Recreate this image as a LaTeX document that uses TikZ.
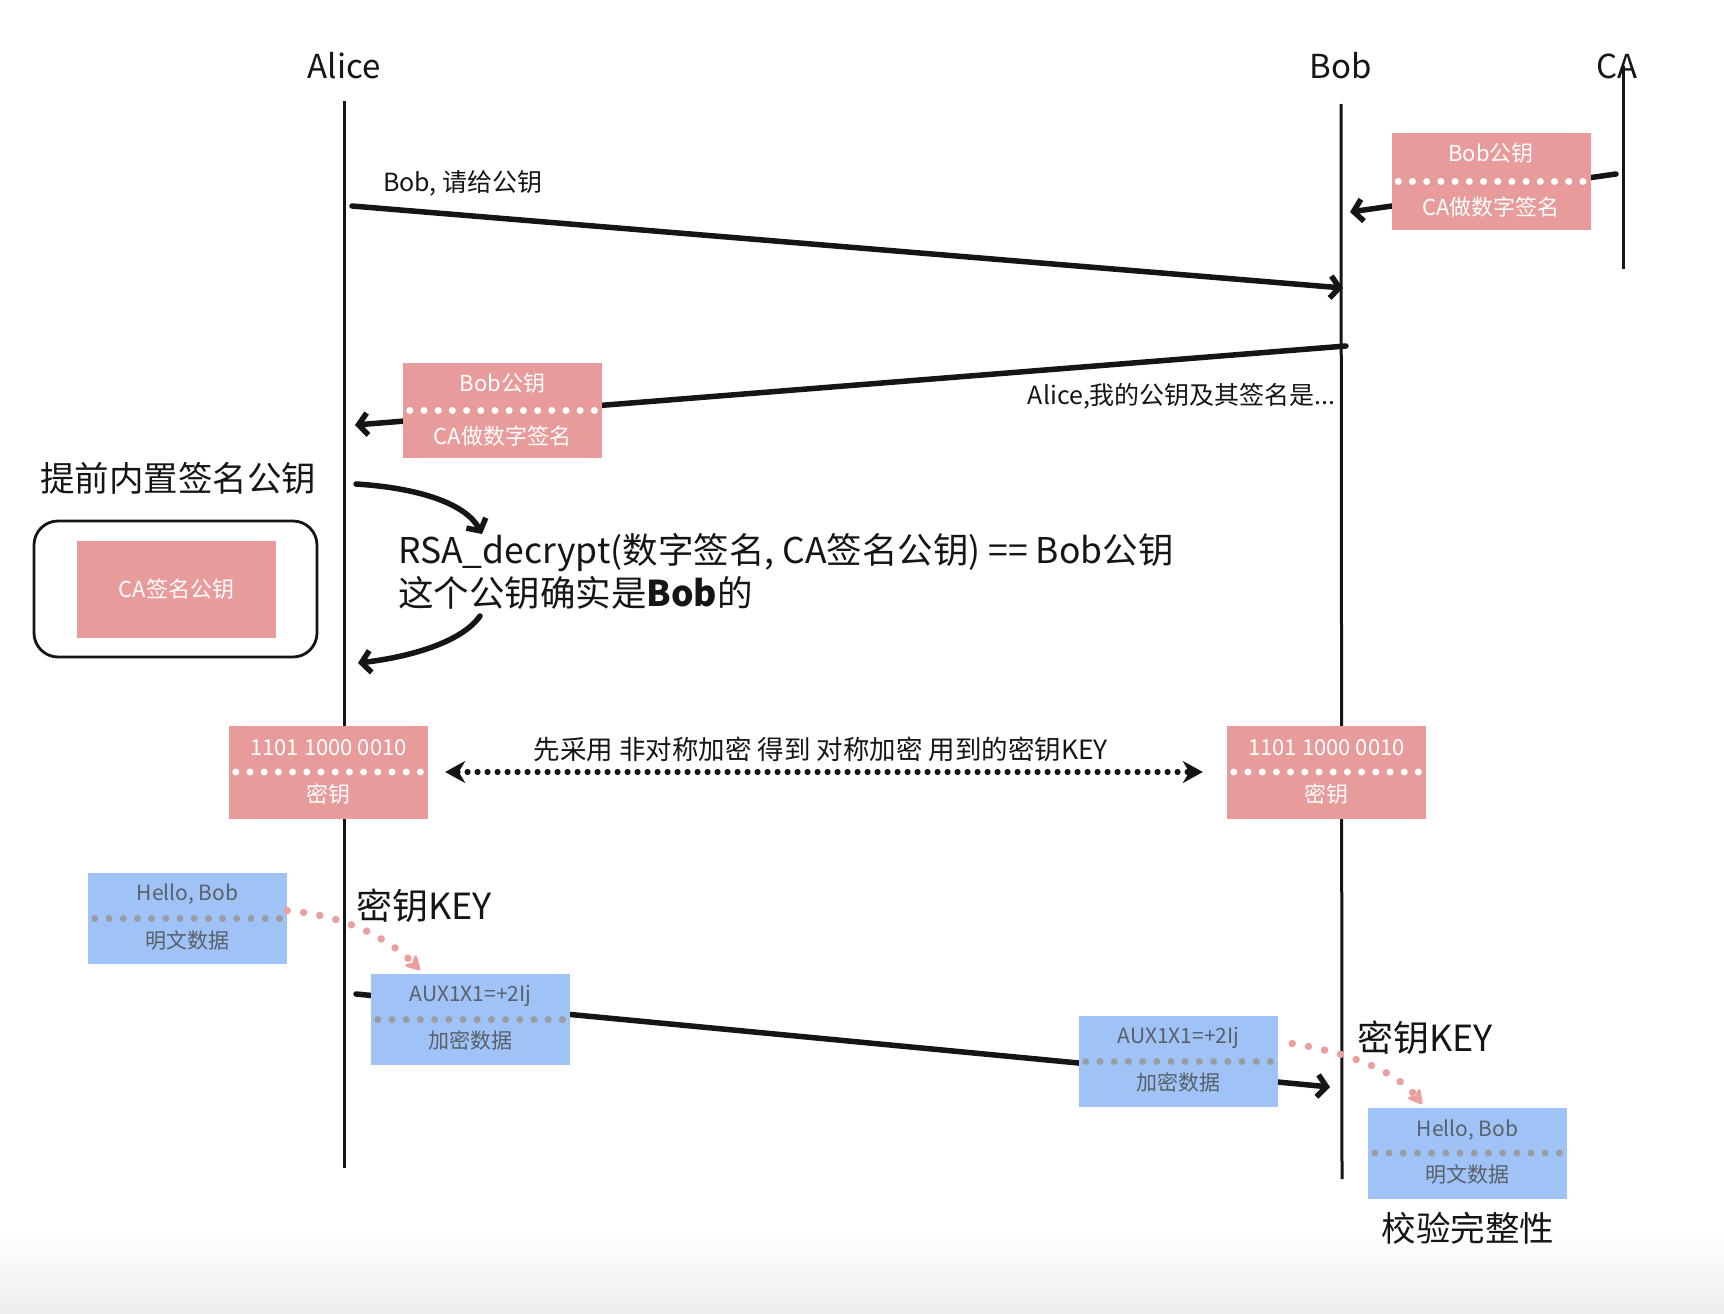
\documentclass[tikz,border=0pt]{standalone}
\usepackage{fontspec}
\setmainfont{Noto Sans CJK SC}
\usetikzlibrary{arrows.meta,calc}
\definecolor{pinkbox}{HTML}{E89B9B}
\definecolor{bluebox}{HTML}{9FC3F6}
\definecolor{bluetext}{HTML}{5A5F68}
\definecolor{bluedot}{HTML}{9A9CA2}
\definecolor{pinkdot}{HTML}{EBA0A0}
\definecolor{ink}{HTML}{151515}
\begin{document}
\begin{tikzpicture}[x=1pt,y=-1pt,
  actor/.style={text=ink, font=\fontsize{33}{36}\selectfont, inner sep=0pt},
  lifeline/.style={line width=3pt, draw=ink},
  msg/.style={line width=5.5pt, draw=ink, line cap=round, -{Straight Barb[length=9pt,width=22pt]}},
  pinkrect/.style={fill=pinkbox, minimum width=199pt, minimum height=93pt, inner sep=0pt},
  bluerect/.style={fill=bluebox, minimum width=199pt, minimum height=91pt, inner sep=0pt},
  whitetxt/.style={text=white, font=\fontsize{22}{24}\selectfont, inner sep=0pt},
  bluetxt/.style={text=bluetext, font=\fontsize{21}{23}\selectfont, inner sep=0pt},
  wdots/.style={draw=white, line width=7pt, line cap=round, dash pattern=on 0pt off 14.2pt},
  gdots/.style={draw=bluedot, line width=7pt, line cap=round, dash pattern=on 0pt off 14.2pt},
  kdots/.style={draw=ink, line width=6.2pt, line cap=round, dash pattern=on 0pt off 10pt,
     {Stealth[length=20pt,width=22pt]}-{Stealth[length=20pt,width=22pt]}},
  pdots/.style={draw=pinkdot, line width=7.5pt, line cap=round, dash pattern=on 0pt off 16.5pt,
     -{Stealth[length=18pt,width=20pt,round]}},
  midtxt/.style={text=ink, font=\fontsize{25}{27}\selectfont, inner sep=0pt},
  bigtxt/.style={text=ink, font=\fontsize{34.5}{37}\selectfont, inner sep=0pt},
  rsatxt/.style={text=ink, font=\fontsize{35.5}{43}\selectfont, inner sep=0pt, align=left}
]
\useasboundingbox (0,0) rectangle (1724,1314);
\shade[top color=white, bottom color=black!7] (0,1230) rectangle (1724,1314);

% actors
\node[actor] (alice) at (344,66) {Alice};
\node[actor] (bob) at (1341,66) {Bob};
\node[actor] (ca) at (1617,66) {CA};

% lifelines
\coordinate (aT) at (344,101); \coordinate (aB) at (344,1168);
\coordinate (bT) at (1341,104); \coordinate (bB) at (1342,1179);
\coordinate (cT) at (1623,66); \coordinate (cB) at (1623,269);
\draw[lifeline] (aT) -- (aB);
\draw[lifeline] (bT) -- (bB);
\draw[lifeline] (cT) -- (cB);

% messages
\coordinate (m0s) at (1616,174); \coordinate (m0e) at (1350,212);
\coordinate (m1s) at (352,206);  \coordinate (m1e) at (1343,288);
\coordinate (m2s) at (1346,346); \coordinate (m2e) at (355,425);
\coordinate (m3s) at (356,994);  \coordinate (m3e) at (1330,1087);
\draw[msg] (m0s) -- (m0e);
\draw[msg] (m1s) -- (m1e);
\draw[msg] (m2s) -- (m2e);
\draw[msg] (m3s) -- (m3e);

\node[midtxt, anchor=west] (l1) at (383,183) {Bob, 请给公钥};
\node[midtxt, anchor=east] (l2) at (1336,396) {Alice,我的公钥及其签名是...};

% CA box
\node[pinkrect, minimum height=97pt] (cabox) at (1491,181.5) {};
\draw[wdots] ([xshift=7pt]cabox.west) -- ([xshift=-4pt]cabox.east);
\node[whitetxt] (cab1) at ([yshift=28pt]cabox.center) {Bob公钥};
\node[whitetxt] (cab2) at ([yshift=-26pt]cabox.center) {CA做数字签名};

% Alice received box
\node[pinkrect, minimum height=95pt] (rbox) at (502.5,410.5) {};
\draw[wdots] ([xshift=7pt]rbox.west) -- ([xshift=-4pt]rbox.east);
\node[whitetxt] (rb1) at ([yshift=27pt]rbox.center) {Bob公钥};
\node[whitetxt] (rb2) at ([yshift=-26pt]rbox.center) {CA做数字签名};

% built-in key
\node[bigtxt] (builtinlbl) at (178,478) {提前内置签名公钥};
\node[draw=ink, line width=2.8pt, rounded corners=24pt, minimum width=283pt, minimum height=136pt] (builtin) at (175.5,589) {};
\node[pinkrect, minimum height=97pt] (capub) at (176.5,589.5) {};
\node[whitetxt] (capubt) at (capub.center) {CA签名公钥};

% verification
\node[rsatxt, anchor=west] (rsa) at (398,571) {RSA\_decrypt(数字签名, CA签名公钥) == Bob公钥\\这个公钥确实是\textbf{Bob}的};
\coordinate (c1s) at (356,484); \coordinate (c1e) at (482,534);
\coordinate (c2s) at (480,616); \coordinate (c2e) at (358,663);
\draw[msg] (c1s) .. controls (420,488) and (466,504) .. (c1e);
\draw[msg] (c2s) .. controls (462,642) and (410,657) .. (c2e);

% symmetric key boxes
\node[pinkrect] (keyL) at (328.5,772) {};
\draw[wdots] ([xshift=7pt]keyL.west) -- ([xshift=-4pt]keyL.east);
\node[whitetxt] (kL1) at ([yshift=24pt]keyL.center) {1101 1000 0010};
\node[whitetxt] (kL2) at ([yshift=-22pt]keyL.center) {密钥};
\node[pinkrect] (keyR) at (1326.5,772) {};
\draw[wdots] ([xshift=7pt]keyR.west) -- ([xshift=-4pt]keyR.east);
\node[whitetxt] (kR1) at ([yshift=24pt]keyR.center) {1101 1000 0010};
\node[whitetxt] (kR2) at ([yshift=-22pt]keyR.center) {密钥};
\draw[kdots] ([xshift=17pt]keyL.east) -- ([xshift=-24pt]keyR.west);
\node[text=ink, font=\fontsize{26.5}{28}\selectfont, inner sep=0pt] (kx) at (821,749) {先采用 非对称加密 得到 对称加密 用到的密钥KEY};

% data boxes
\node[bluerect] (helloL) at (187.5,918.5) {};
\draw[gdots] ([xshift=7pt]helloL.west) -- ([xshift=-4pt]helloL.east);
\node[bluetxt] (hL1) at ([yshift=24pt]helloL.center) {Hello, Bob};
\node[bluetxt] (hL2) at ([yshift=-22pt]helloL.center) {明文数据};

\node[bluerect] (auxL) at (470.5,1019.5) {};
\draw[gdots] ([xshift=7pt]auxL.west) -- ([xshift=-4pt]auxL.east);
\node[bluetxt] (aL1) at ([yshift=24pt]auxL.center) {AUX1X1=+2Ij};
\node[bluetxt] (aL2) at ([yshift=-21pt]auxL.center) {加密数据};

\node[bluerect] (auxR) at (1178.5,1061.5) {};
\draw[gdots] ([xshift=7pt]auxR.west) -- ([xshift=-4pt]auxR.east);
\node[bluetxt] (aR1) at ([yshift=24pt]auxR.center) {AUX1X1=+2Ij};
\node[bluetxt] (aR2) at ([yshift=-21pt]auxR.center) {加密数据};

\node[bluerect] (helloR) at (1467.5,1153) {};
\draw[gdots] ([xshift=7pt]helloR.west) -- ([xshift=-4pt]helloR.east);
\node[bluetxt] (hR1) at ([yshift=23pt]helloR.center) {Hello, Bob};
\node[bluetxt] (hR2) at ([yshift=-22pt]helloR.center) {明文数据};

% key usage
\node[bigtxt, font=\fontsize{36}{38}\selectfont, anchor=west] (kk1) at (356,906) {密钥KEY};
\node[bigtxt, font=\fontsize{36}{38}\selectfont, anchor=west] (kk2) at (1357,1038) {密钥KEY};
\coordinate (p1e) at (420,970);
\coordinate (p2e) at (1422,1104);
\draw[pdots] ([yshift=8pt]helloL.east) .. controls (340,915) and (385,935) .. (p1e);
\draw[pdots] ([xshift=14pt,yshift=18pt]auxR.east) .. controls (1345,1052) and (1395,1070) .. (p2e);

\node[bigtxt] (check) at (1468,1228) {校验完整性};
\end{tikzpicture}
\end{document}
